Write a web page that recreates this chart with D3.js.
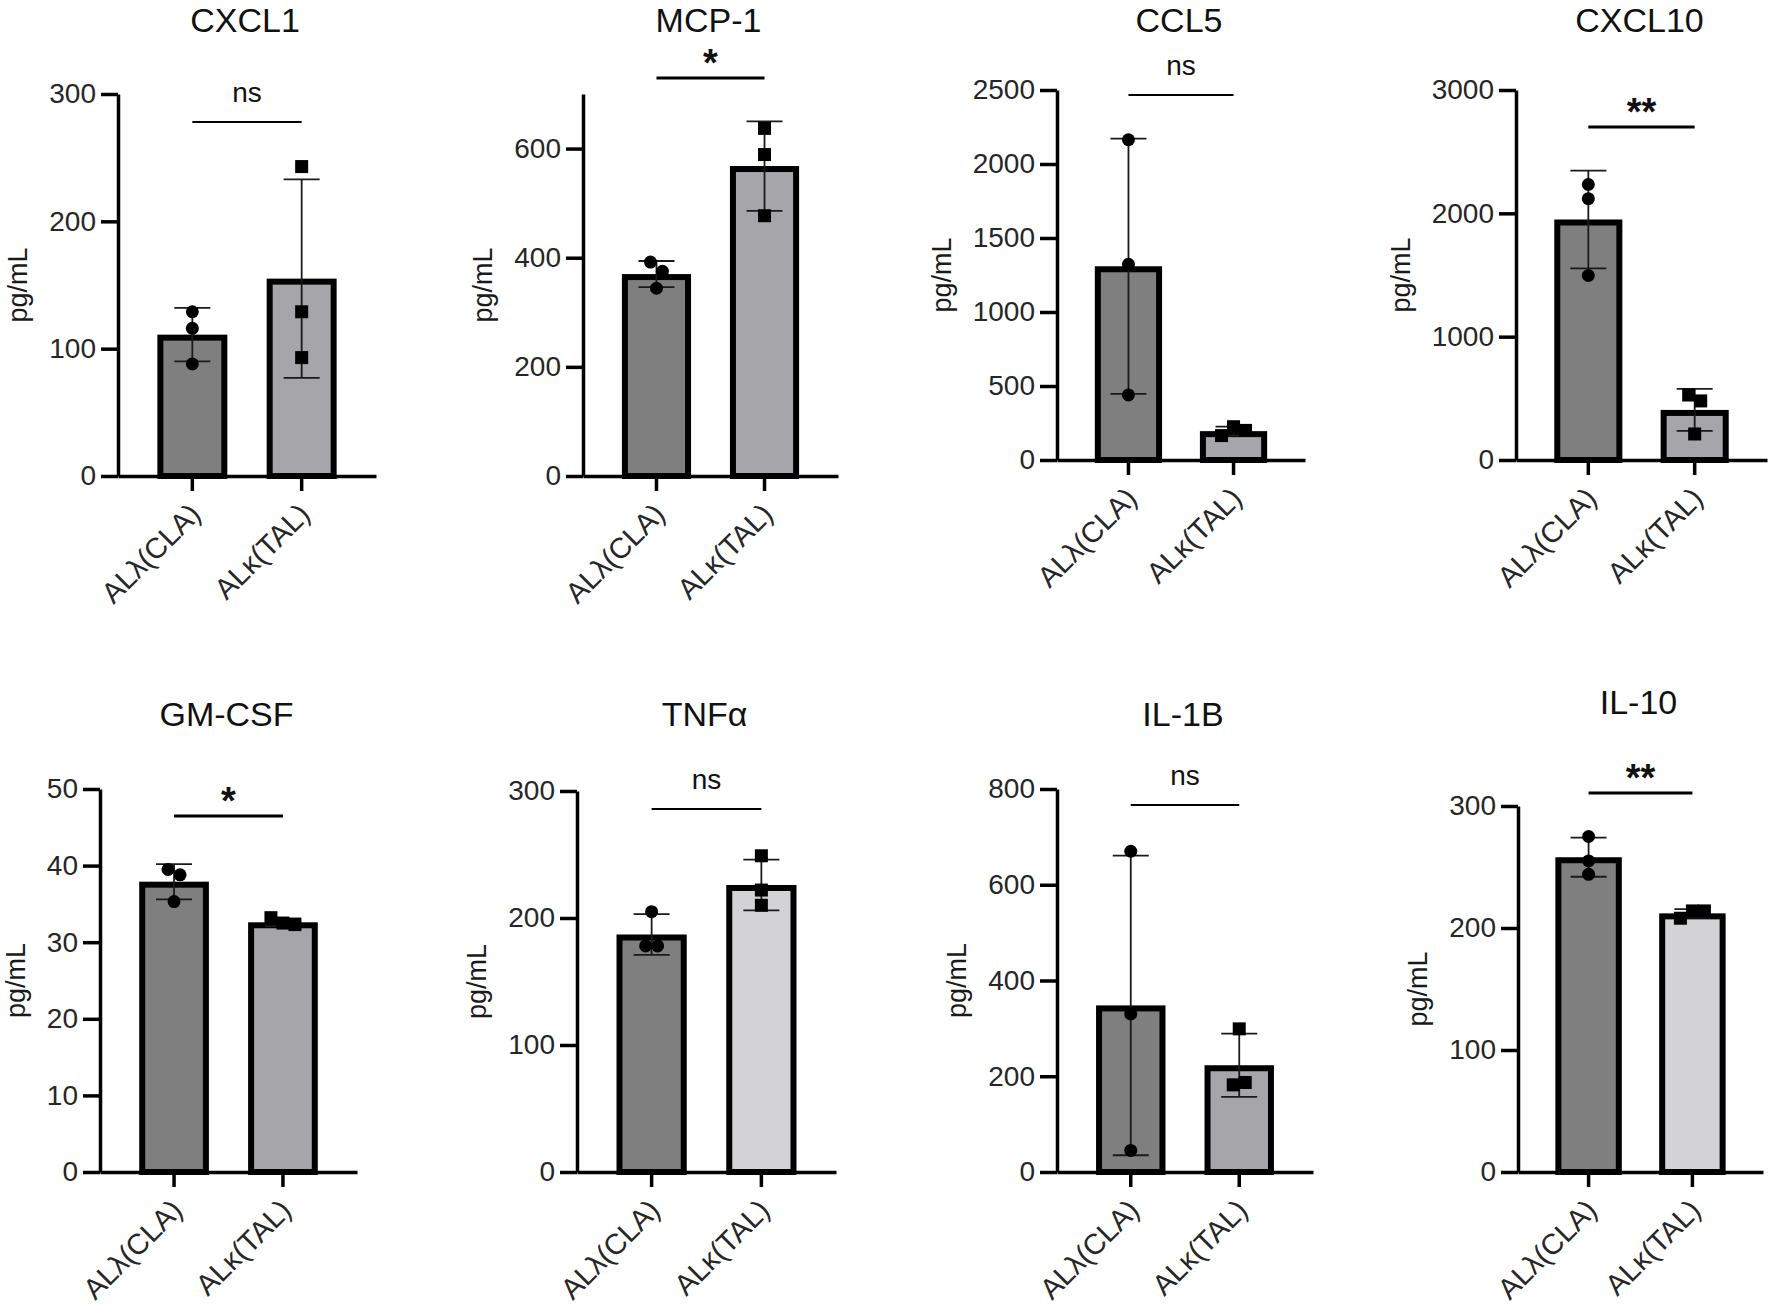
<!DOCTYPE html>
<html>
<head>
<meta charset="utf-8">
<script src="https://cdn.jsdelivr.net/npm/d3@7"></script>
<style>
  html, body { margin: 0; padding: 0; background: #fff; }
  svg { display: block; }
  text { font-family: "Liberation Sans", Arial, Helvetica, sans-serif; }
</style>
</head>
<body>
<svg id="chart" width="1772" height="1307"></svg>
<script>
// ---------------- data ----------------
const panels = ["CXCL1", "MCP-1", "CCL5", "CXCL10", "GM-CSF", "TNFα", "IL-1B", "IL-10"];
const groups = ["ALλ(CLA)", "ALκ(TAL)"];
const yMax = [300, 700, 2500, 3000, 50, 300, 800, 300];
const yTicks = [
  [0, 100, 200, 300],
  [0, 200, 400, 600],
  [0, 500, 1000, 1500, 2000, 2500],
  [0, 1000, 2000, 3000],
  [0, 10, 20, 30, 40, 50],
  [0, 100, 200, 300],
  [0, 200, 400, 600, 800],
  [0, 100, 200, 300]
];
const meanCLA = [111, 370, 1309, 1950, 37.9, 187, 348, 258];
const sdCLA   = [21, 24, 862, 397, 2.3, 16, 313, 16];
const meanTAL = [155, 568, 195, 406, 32.6, 226, 223, 212];
const sdTAL   = [78, 82, 30, 170, 0.5, 20, 66, 3.5];
const pointsCLA = [
  [129, 116, 88],
  [392, 375, 344],
  [2164, 1322, 440],
  [2234, 2119, 1496],
  [39.5, 38.8, 35.3],
  [205, 178, 178],
  [670, 330, 45],
  [275, 255, 244]
];
const pointsTAL = [
  [243, 129, 93],
  [637, 589, 477],
  [165, 225, 200],
  [527, 479, 211],
  [33.2, 32.5, 32.3],
  [249, 222, 210],
  [299, 182, 187],
  [208, 214, 214]
];
const sigLabels = ["ns", "*", "ns", "**", "*", "ns", "ns", "**"];
const yLabel = "pg/mL";

// ---------------- layout (positions / styles) ----------------
const layout = [
  {x: 118,  end: 376,  top: 94,  zero: 476,  sig: 122, title: 32,  fill2: "#a5a5aa"},
  {x: 583,  end: 838,  top: 94,  zero: 476,  sig: 78,  title: 32,  fill2: "#a5a5aa"},
  {x: 1057, end: 1305, top: 90,  zero: 460,  sig: 95,  title: 32,  fill2: "#a5a5aa"},
  {x: 1516, end: 1767, top: 90,  zero: 460,  sig: 127, title: 32,  fill2: "#a5a5aa"},
  {x: 100,  end: 357,  top: 789, zero: 1172, sig: 816, title: 726, fill2: "#a5a5aa"},
  {x: 577,  end: 836,  top: 791, zero: 1172, sig: 809, title: 726, fill2: "#d3d3d6"},
  {x: 1057, end: 1313, top: 789, zero: 1172, sig: 805, title: 726, fill2: "#a5a5aa"},
  {x: 1518, end: 1763, top: 806, zero: 1172, sig: 793, title: 714, fill2: "#d3d3d6"}
];
const fill1 = "#7f7f7f";
const barStroke = 6;
const axisStroke = 3.5;
const capHalf = 18;
const markR = 6.5;
const markSq = 13;
const jitterStep = 12;
const clusterDist = 11;

const svg = d3.select("#chart");

// place points: cluster overlapping ones and spread them horizontally
function placePoints(vals, y) {
  const idx = vals.map((v, i) => i).sort((a, b) => y(vals[a]) - y(vals[b]));
  const clusters = [];
  let cur = [];
  idx.forEach((i, k) => {
    if (k > 0 && Math.abs(y(vals[i]) - y(vals[idx[k - 1]])) >= clusterDist) {
      clusters.push(cur); cur = [];
    }
    cur.push(i);
  });
  if (cur.length) clusters.push(cur);
  const off = new Array(vals.length).fill(0);
  clusters.forEach(c => {
    const ordered = c.slice().sort((a, b) => a - b);
    ordered.forEach((i, j) => { off[i] = (j - (ordered.length - 1) / 2) * jitterStep; });
  });
  return vals.map((v, i) => ({v, dx: off[i]}));
}

panels.forEach((name, p) => {
  const L = layout[p];
  const g = svg.append("g");

  const y = d3.scaleLinear().domain([0, yMax[p]]).range([L.zero, L.top]);
  const x = d3.scaleBand().domain(groups).range([L.x, L.end])
    .paddingInner(0.36).paddingOuter(0.36);

  const means = [meanCLA[p], meanTAL[p]];
  const sds = [sdCLA[p], sdTAL[p]];
  const pts = [pointsCLA[p], pointsTAL[p]];
  const fills = [fill1, L.fill2];

  // bars (outer edge of the outline sits at the value)
  groups.forEach((grp, i) => {
    g.append("rect")
      .attr("x", x(grp) + barStroke / 2)
      .attr("width", x.bandwidth() - barStroke)
      .attr("y", y(means[i]) + barStroke / 2)
      .attr("height", L.zero - y(means[i]) - barStroke / 2)
      .attr("fill", fills[i])
      .attr("stroke", "#000")
      .attr("stroke-width", barStroke);
  });

  // error bars
  groups.forEach((grp, i) => {
    const cx = x(grp) + x.bandwidth() / 2;
    const lo = y(means[i] - sds[i]);
    const hi = y(means[i] + sds[i]);
    const eg = g.append("g").attr("stroke", "#1a1a1a").attr("stroke-width", 1.8);
    eg.append("line").attr("x1", cx).attr("x2", cx).attr("y1", lo).attr("y2", hi);
    eg.append("line").attr("x1", cx - capHalf).attr("x2", cx + capHalf).attr("y1", lo).attr("y2", lo);
    eg.append("line").attr("x1", cx - capHalf).attr("x2", cx + capHalf).attr("y1", hi).attr("y2", hi);
  });

  // points
  groups.forEach((grp, i) => {
    const cx = x(grp) + x.bandwidth() / 2;
    const placed = placePoints(pts[i], y);
    if (i === 0) {
      g.selectAll(null).data(placed).enter().append("circle")
        .attr("cx", d => cx + d.dx).attr("cy", d => y(d.v))
        .attr("r", markR).attr("fill", "#000");
    } else {
      g.selectAll(null).data(placed).enter().append("rect")
        .attr("x", d => cx + d.dx - markSq / 2).attr("y", d => y(d.v) - markSq / 2)
        .attr("width", markSq).attr("height", markSq).attr("fill", "#000");
    }
  });

  // y axis
  const ya = g.append("g").attr("transform", `translate(${L.x},0)`)
    .call(d3.axisLeft(y).tickValues(yTicks[p]).tickFormat(d3.format("d"))
      .tickSize(17).tickSizeOuter(0).tickPadding(5));
  ya.select(".domain").attr("stroke", "#000").attr("stroke-width", axisStroke);
  ya.selectAll(".tick line").attr("stroke", "#000").attr("stroke-width", axisStroke);
  ya.selectAll(".tick text").attr("font-size", 28).attr("fill", "#262626")
    .attr("font-family", "'Liberation Sans', Arial, sans-serif");

  // x axis
  const xa = g.append("g").attr("transform", `translate(0,${L.zero})`)
    .call(d3.axisBottom(x).tickSize(15).tickSizeOuter(0));
  xa.select(".domain").attr("stroke", "#000").attr("stroke-width", axisStroke);
  xa.selectAll(".tick line").attr("stroke", "#000").attr("stroke-width", axisStroke);
  xa.selectAll(".tick text")
    .attr("font-size", 29).attr("fill", "#262626")
    .attr("font-family", "'Liberation Sans', Arial, sans-serif")
    .attr("text-anchor", "end")
    .attr("dy", null)
    .attr("y", 0)
    .attr("transform", "translate(10,40) rotate(-45)");

  // y label
  const bb = ya.node().getBBox();
  g.append("text")
    .attr("transform", `translate(${L.x + bb.x - 22},${(L.top + L.zero) / 2}) rotate(-90)`)
    .attr("text-anchor", "middle")
    .attr("font-size", 27).attr("fill", "#1a1a1a")
    .text(yLabel);

  // title
  g.append("text")
    .attr("x", (L.x + L.end) / 2 - 2).attr("y", L.title)
    .attr("text-anchor", "middle").attr("font-size", 34).attr("fill", "#111")
    .text(name);

  // significance
  const c1 = x(groups[0]) + x.bandwidth() / 2;
  const c2 = x(groups[1]) + x.bandwidth() / 2;
  const isStar = sigLabels[p] !== "ns";
  g.append("line").attr("x1", c1).attr("x2", c2).attr("y1", L.sig).attr("y2", L.sig)
    .attr("stroke", "#000").attr("stroke-width", isStar ? 3 : 2.2);
  g.append("text")
    .attr("x", (c1 + c2) / 2).attr("y", isStar ? L.sig - 2 : L.sig - 20)
    .attr("text-anchor", "middle")
    .attr("font-size", isStar ? 38 : 28)
    .attr("font-weight", isStar ? "bold" : "normal")
    .attr("fill", "#111")
    .text(sigLabels[p]);
});
</script>
</body>
</html>
